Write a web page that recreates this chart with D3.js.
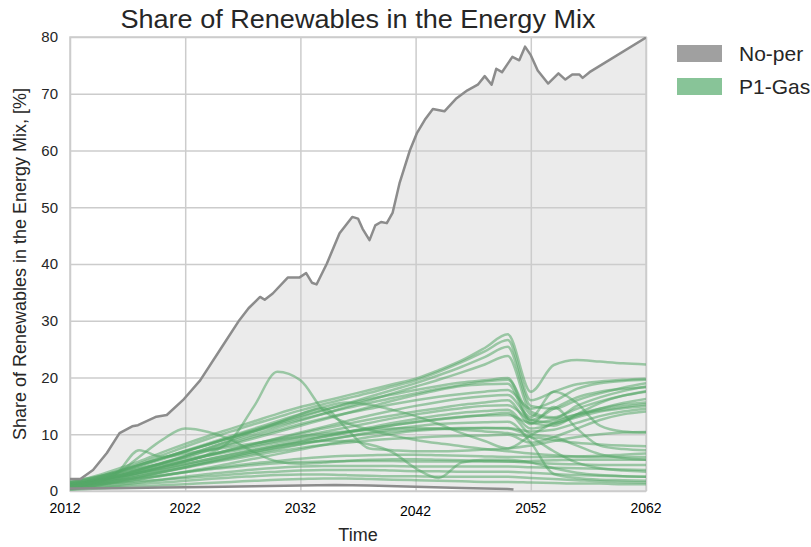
<!DOCTYPE html>
<html lang="en">
<head>
<meta charset="UTF-8" />
<title>Share of Renewables in the Energy Mix</title>
<script src="https://cdn.jsdelivr.net/npm/d3@7"></script>
<style>
  body { margin: 0; background: #ffffff; }
  svg { display: block; font-family: "Liberation Sans", Arial, sans-serif; }
</style>
</head>
<body>
<svg id="chart" width="811" height="547"></svg>
<script>
// time grid shared by the P1-Gas runs
const years = [2012, 2014, 2016, 2018, 2020, 2022, 2024, 2026, 2028, 2030, 2032, 2034, 2036,
  2038, 2040, 2042, 2044, 2046, 2048, 2050, 2052, 2054, 2056, 2058, 2060, 2062];

// P1-Gas runs (share of renewables, %)
const gasRuns = [
  [1.5, 2.5, 3.8, 5.2, 6.8, 8.3, 9.7, 11.0, 12.3, 13.6, 14.8, 15.8, 16.8, 17.8, 18.8, 19.8, 21.3, 23.0, 25.2, 27.6, 17.5, 22.2, 23.1, 22.8, 22.5, 22.3],
  [0.8, 2.0, 3.3, 4.8, 6.3, 7.8, 9.2, 10.5, 11.8, 13.0, 14.2, 15.3, 16.3, 17.3, 18.4, 19.5, 21.0, 22.7, 24.6, 26.6, 16.0, 17.5, 18.8, 19.3, 19.6, 19.8],
  [1.2, 2.2, 3.4, 4.6, 5.8, 7.0, 8.2, 9.4, 10.6, 11.8, 13.0, 14.2, 15.4, 16.6, 17.8, 19.0, 20.4, 21.9, 23.6, 25.4, 15.0, 14.5, 16.0, 17.2, 18.2, 19.0],
  [0.5, 1.4, 2.6, 3.8, 5.0, 6.2, 7.5, 8.8, 10.0, 11.2, 12.4, 13.6, 14.8, 16.0, 17.2, 18.4, 19.6, 20.9, 22.3, 23.8, 14.0, 13.0, 14.5, 15.8, 16.8, 17.5],
  [0.8, 1.8, 3.0, 4.3, 5.6, 6.9, 8.2, 9.5, 10.8, 12.0, 13.2, 14.3, 15.3, 16.2, 17.0, 17.8, 18.5, 19.1, 19.5, 19.9, 12.5, 14.5, 16.5, 17.5, 18.0, 18.3],
  [1.5, 2.3, 3.4, 4.6, 5.8, 7.0, 8.2, 9.4, 10.5, 11.6, 12.6, 13.6, 14.6, 15.5, 16.4, 17.2, 18.0, 18.7, 19.3, 19.6, 13.5, 12.8, 15.0, 16.5, 17.6, 18.4],
  [1.0, 1.8, 2.8, 3.8, 4.9, 6.0, 7.1, 8.2, 9.3, 10.4, 11.5, 12.6, 13.7, 14.8, 15.9, 16.9, 17.8, 18.5, 18.8, 18.9, 12.0, 11.5, 13.5, 15.5, 16.8, 17.6],
  [1.0, 1.6, 2.4, 3.3, 4.3, 5.3, 6.3, 7.3, 8.3, 9.3, 10.3, 11.3, 12.3, 13.3, 14.2, 15.0, 15.7, 16.3, 16.7, 16.9, 13.0, 17.5, 15.5, 11.5, 10.5, 10.3],
  [0.6, 1.3, 2.2, 3.2, 4.2, 5.2, 6.3, 7.3, 8.3, 9.2, 10.1, 11.0, 11.8, 12.6, 13.3, 14.0, 14.6, 15.2, 15.6, 16.0, 11.8, 14.8, 11.0, 8.0, 7.4, 7.2],
  [1.8, 2.4, 3.2, 4.0, 4.8, 5.6, 6.4, 7.2, 8.0, 8.8, 9.6, 10.4, 11.2, 12.0, 12.8, 13.5, 14.1, 14.6, 15.0, 15.1, 12.5, 12.0, 13.2, 14.5, 15.5, 16.2],
  [0.4, 0.9, 1.6, 2.4, 3.3, 4.2, 5.1, 6.0, 6.9, 7.8, 8.7, 9.6, 10.4, 11.2, 12.0, 12.7, 13.3, 13.8, 14.1, 14.3, 11.0, 11.8, 13.0, 14.0, 14.6, 15.0],
  [1.2, 1.7, 2.4, 3.2, 4.0, 4.8, 5.6, 6.4, 7.2, 8.0, 8.8, 9.5, 10.2, 10.9, 11.6, 12.2, 12.7, 13.1, 13.3, 13.4, 12.0, 12.5, 13.5, 14.2, 14.8, 15.3],
  [0.9, 1.3, 1.9, 2.6, 3.4, 4.2, 5.0, 5.8, 6.6, 7.4, 8.2, 8.9, 9.6, 10.3, 10.9, 11.4, 11.8, 12.0, 12.1, 12.2, 8.5, 3.0, 2.3, 2.0, 1.9, 1.8],
  [0.5, 0.9, 1.4, 2.0, 2.7, 3.4, 4.1, 4.9, 5.7, 6.5, 7.3, 8.1, 8.8, 9.5, 10.1, 10.6, 10.9, 11.0, 11.1, 11.1, 10.5, 10.8, 12.0, 13.2, 14.0, 14.5],
  [1.0, 2.0, 3.2, 4.5, 5.8, 7.1, 8.4, 9.7, 11.0, 12.3, 13.6, 14.8, 15.6, 15.2, 14.3, 13.2, 11.8, 10.2, 8.8, 7.5, 9.8, 12.0, 13.5, 14.5, 15.2, 15.6],
  [1.4, 1.8, 2.4, 3.2, 4.2, 5.2, 6.5, 9.0, 15.0, 21.0, 19.5, 14.2, 12.0, 10.8, 9.8, 9.0, 8.4, 7.9, 7.4, 7.0, 6.6, 6.3, 6.1, 6.0, 6.0, 6.0],
  [1.2, 1.8, 3.0, 6.0, 9.0, 11.0, 10.4, 9.0, 6.8, 5.2, 4.8, 5.0, 5.3, 5.5, 5.6, 5.6, 5.5, 5.4, 5.3, 5.2, 5.0, 4.8, 4.7, 4.6, 4.6, 4.6],
  [0.8, 1.6, 3.0, 7.2, 6.0, 6.6, 7.2, 7.8, 8.4, 9.0, 9.6, 10.1, 10.5, 10.8, 11.0, 11.1, 11.0, 10.8, 10.5, 10.2, 9.5, 9.0, 8.5, 8.2, 8.0, 7.9],
  [0.6, 1.0, 1.5, 2.1, 2.7, 3.3, 3.9, 4.4, 4.9, 5.3, 5.7, 6.0, 6.2, 6.3, 6.4, 6.4, 6.3, 6.2, 6.1, 6.0, 6.0, 6.0, 6.1, 6.2, 6.4, 6.6],
  [1.3, 1.5, 1.9, 2.3, 2.8, 3.3, 3.8, 4.2, 4.6, 4.9, 5.1, 5.2, 5.3, 5.3, 5.3, 5.2, 5.2, 5.2, 5.2, 5.2, 5.3, 5.4, 5.5, 5.5, 5.5, 5.5],
  [0.3, 0.6, 1.0, 1.5, 2.0, 2.5, 3.0, 3.4, 3.8, 4.1, 4.3, 4.4, 4.4, 4.4, 4.4, 4.3, 4.3, 4.3, 4.3, 4.3, 4.2, 4.1, 4.0, 3.9, 3.8, 3.7],
  [1.0, 1.2, 1.4, 1.7, 2.0, 2.3, 2.6, 2.9, 3.2, 3.4, 3.6, 3.7, 3.7, 3.7, 3.6, 3.5, 3.5, 3.4, 3.4, 3.4, 3.2, 3.0, 2.8, 2.7, 2.6, 2.5],
  [0.4, 0.6, 0.9, 1.2, 1.5, 1.8, 2.1, 2.4, 2.6, 2.8, 2.9, 2.9, 2.8, 2.7, 2.6, 2.6, 2.5, 2.5, 2.5, 2.5, 2.3, 2.1, 1.9, 1.7, 1.6, 1.5],
  [0.7, 1.2, 2.0, 2.9, 3.8, 4.7, 5.6, 6.5, 7.3, 8.0, 8.5, 8.8, 8.8, 8.2, 6.8, 4.0, 2.3, 5.0, 5.5, 5.5, 5.0, 4.0, 3.2, 2.8, 2.6, 2.5],
  [1.1, 1.7, 2.6, 3.7, 4.9, 6.2, 7.6, 9.0, 10.5, 12.0, 13.5, 14.6, 11.0, 7.5, 7.2, 7.0, 7.0, 7.1, 7.3, 7.5, 8.0, 8.8, 9.5, 10.0, 10.3, 10.4],
  [0.9, 1.4, 2.1, 2.9, 3.7, 4.5, 5.3, 6.1, 6.9, 7.6, 8.3, 9.0, 9.6, 10.1, 10.5, 10.8, 11.0, 11.1, 11.1, 11.0, 9.5, 7.0, 5.0, 4.0, 3.6, 3.4],
  [0.5, 1.0, 1.7, 2.5, 3.3, 4.1, 4.9, 5.6, 6.3, 7.0, 7.6, 8.1, 8.5, 8.9, 9.2, 9.4, 9.6, 9.7, 9.8, 9.9, 8.5, 9.5, 11.0, 12.5, 13.5, 14.0],
  [0.2, 0.4, 0.6, 0.8, 1.0, 1.2, 1.4, 1.6, 1.8, 2.0, 2.1, 2.2, 2.2, 2.1, 2.0, 1.9, 1.8, 1.7, 1.6, 1.6, 1.5, 1.4, 1.3, 1.3, 1.2, 1.2],
  [1.6, 2.0, 2.7, 3.5, 4.4, 5.3, 6.2, 7.0, 7.8, 8.5, 9.2, 9.8, 10.4, 11.0, 11.6, 12.1, 12.6, 13.0, 13.4, 13.8, 10.0, 9.5, 8.0, 6.5, 5.8, 5.5],
  [0.7, 1.5, 2.5, 3.6, 4.8, 6.0, 7.2, 8.4, 9.6, 10.7, 11.8, 12.8, 13.7, 14.5, 15.3, 16.0, 16.6, 17.1, 17.5, 17.8, 14.5, 15.8, 18.0, 19.0, 19.4, 19.6]
];

// No-per envelope: upper and lower bound
const maxYears = [2012, 2012.9, 2014.0, 2015.2, 2016.3, 2017.4, 2017.9, 2019.5, 2020.4, 2021.8,
  2023.3, 2025.0, 2026.7, 2027.5, 2028.5, 2028.9, 2029.6, 2030.9, 2031.9, 2032.5, 2033.0, 2033.4,
  2034.3, 2035.4, 2036.5, 2037.0, 2037.4, 2038.0, 2038.5, 2039.0, 2039.5, 2040.0, 2040.6, 2041.5,
  2042.1, 2042.8, 2043.5, 2044.5, 2045.5, 2046.5, 2047.4, 2048.0, 2048.6, 2049.0, 2049.5, 2050.4,
  2051.0, 2051.5, 2052.0, 2052.6, 2053.5, 2054.4, 2055.0, 2055.6, 2056.2, 2056.5, 2057.1, 2062];
const maxValues = [2.1, 2.1, 3.7, 6.7, 10.2, 11.4, 11.6, 13.1, 13.4, 16.0,
  19.5, 24.8, 30.1, 32.2, 34.2, 33.7, 34.8, 37.6, 37.6, 38.4, 36.7, 36.4,
  40.1, 45.4, 48.3, 48.0, 46.2, 44.2, 46.8, 47.4, 47.2, 49.0, 54.2, 60.0,
  63.0, 65.4, 67.3, 66.9, 69.1, 70.6, 71.6, 73.1, 71.6, 74.4, 73.8, 76.5,
  75.9, 78.3, 76.8, 74.1, 71.8, 73.6, 72.5, 73.4, 73.4, 72.8, 73.8, 79.9];
const minYears = [2012, 2016, 2020, 2024, 2028, 2032, 2035, 2038, 2042, 2046, 2050, 2050.5];
const minValues = [0.45, 0.5, 0.6, 0.7, 0.85, 0.95, 1.05, 0.95, 0.75, 0.55, 0.35, 0.25];

const xTicks = [2012, 2022, 2032, 2042, 2052, 2062];
const yTicks = [0, 10, 20, 30, 40, 50, 60, 70, 80];
const legendNames = ["No-per", "P1-Gas"];
const legendColors = ["#a0a0a0", "#88c498"];

const svg = d3.select("#chart");
const plotLeft = 70, plotRight = 646, plotTop = 37, plotBottom = 491;

const x = d3.scaleLinear().domain([2012, 2062]).range([plotLeft, plotRight]);
const y = d3.scaleLinear().domain([0, 80]).range([plotBottom, plotTop]);

svg.append("clipPath").attr("id", "plotClip")
  .append("rect")
  .attr("x", plotLeft).attr("y", plotTop)
  .attr("width", plotRight - plotLeft).attr("height", plotBottom - plotTop);

// shaded envelope between the No-per bounds
const maxPts = maxYears.map((t, i) => [t, maxValues[i]]);
const minPts = minYears.map((t, i) => [t, minValues[i]]);
const envelope = maxPts.concat([[2062, 0], [2051, 0]], minPts.slice().reverse());
const line = d3.line().x(d => x(d[0])).y(d => y(d[1]));

svg.append("path")
  .attr("d", line(envelope) + "Z")
  .attr("fill", "#ebebeb");

// grid
svg.append("g")
  .attr("transform", `translate(0,${plotBottom})`)
  .call(d3.axisBottom(x).tickValues(xTicks).tickSize(-(plotBottom - plotTop)).tickFormat(""))
  .call(g => g.select(".domain").remove())
  .call(g => g.selectAll("line").attr("stroke", "#cccccc").attr("stroke-width", 1.5));
svg.append("g")
  .attr("transform", `translate(${plotLeft},0)`)
  .call(d3.axisLeft(y).tickValues(yTicks).tickSize(-(plotRight - plotLeft)).tickPadding(12))
  .call(g => g.select(".domain").remove())
  .call(g => g.selectAll("line").attr("stroke", "#cccccc").attr("stroke-width", 1.5))
  .call(g => g.selectAll("text")
    .attr("fill", "#262626")
    .style("font-size", "15px")
    .style("font-family", "'Liberation Sans', Arial, sans-serif"));

svg.append("rect")
  .attr("x", plotLeft).attr("y", plotTop)
  .attr("width", plotRight - plotLeft).attr("height", plotBottom - plotTop)
  .attr("fill", "none")
  .attr("stroke", "#cccccc")
  .attr("stroke-width", 1.5);

// P1-Gas runs
const runLine = d3.line()
  .x((d, i) => x(years[i]))
  .y(d => y(d))
  .curve(d3.curveMonotoneX);

svg.append("g")
  .attr("clip-path", "url(#plotClip)")
  .selectAll("path")
  .data(gasRuns)
  .join("path")
  .attr("d", runLine)
  .attr("fill", "none")
  .attr("stroke", "#55a868")
  .attr("stroke-opacity", 0.55)
  .attr("stroke-width", 2.5);

// No-per bounds
const bounds = svg.append("g").attr("clip-path", "url(#plotClip)");
[maxPts, minPts].forEach(pts => {
  bounds.append("path")
    .attr("d", line(pts))
    .attr("fill", "none")
    .attr("stroke", "#8c8c8c")
    .attr("stroke-width", 2.5)
    .attr("stroke-linejoin", "round");
});

// x tick labels (the 2042 label sits a little lower in the original)
svg.append("g")
  .selectAll("text")
  .data(xTicks)
  .join("text")
  .attr("x", (d, i) => i === 0 ? x(d) - 5 : x(d))
  .attr("y", (d, i) => i === 3 ? 516 : 513)
  .attr("text-anchor", "middle")
  .attr("fill", "#000000")
  .style("font-size", "14px")
  .text(d => d);

// titles
svg.append("text")
  .attr("x", (plotLeft + plotRight) / 2)
  .attr("y", 28)
  .attr("text-anchor", "middle")
  .attr("fill", "#262626")
  .attr("textLength", 475)
  .attr("lengthAdjust", "spacingAndGlyphs")
  .style("font-size", "25px")
  .text("Share of Renewables in the Energy Mix");

svg.append("text")
  .attr("x", (plotLeft + plotRight) / 2)
  .attr("y", 541)
  .attr("text-anchor", "middle")
  .attr("fill", "#262626")
  .style("font-size", "18px")
  .text("Time");

svg.append("text")
  .attr("transform", `translate(26,${(plotTop + plotBottom) / 2}) rotate(-90)`)
  .attr("text-anchor", "middle")
  .attr("fill", "#262626")
  .style("font-size", "18px")
  .text("Share of Renewables in the Energy Mix, [%]");

// legend
const legend = svg.append("g")
  .selectAll("g")
  .data(legendNames)
  .join("g")
  .attr("transform", (d, i) => `translate(677,${45 + i * 33})`);
legend.append("rect")
  .attr("width", 45).attr("height", 17)
  .attr("fill", (d, i) => legendColors[i]);
legend.append("text")
  .attr("x", 62).attr("y", 16)
  .attr("fill", "#262626")
  .style("font-size", "21px")
  .text(d => d);
</script>
</body>
</html>
